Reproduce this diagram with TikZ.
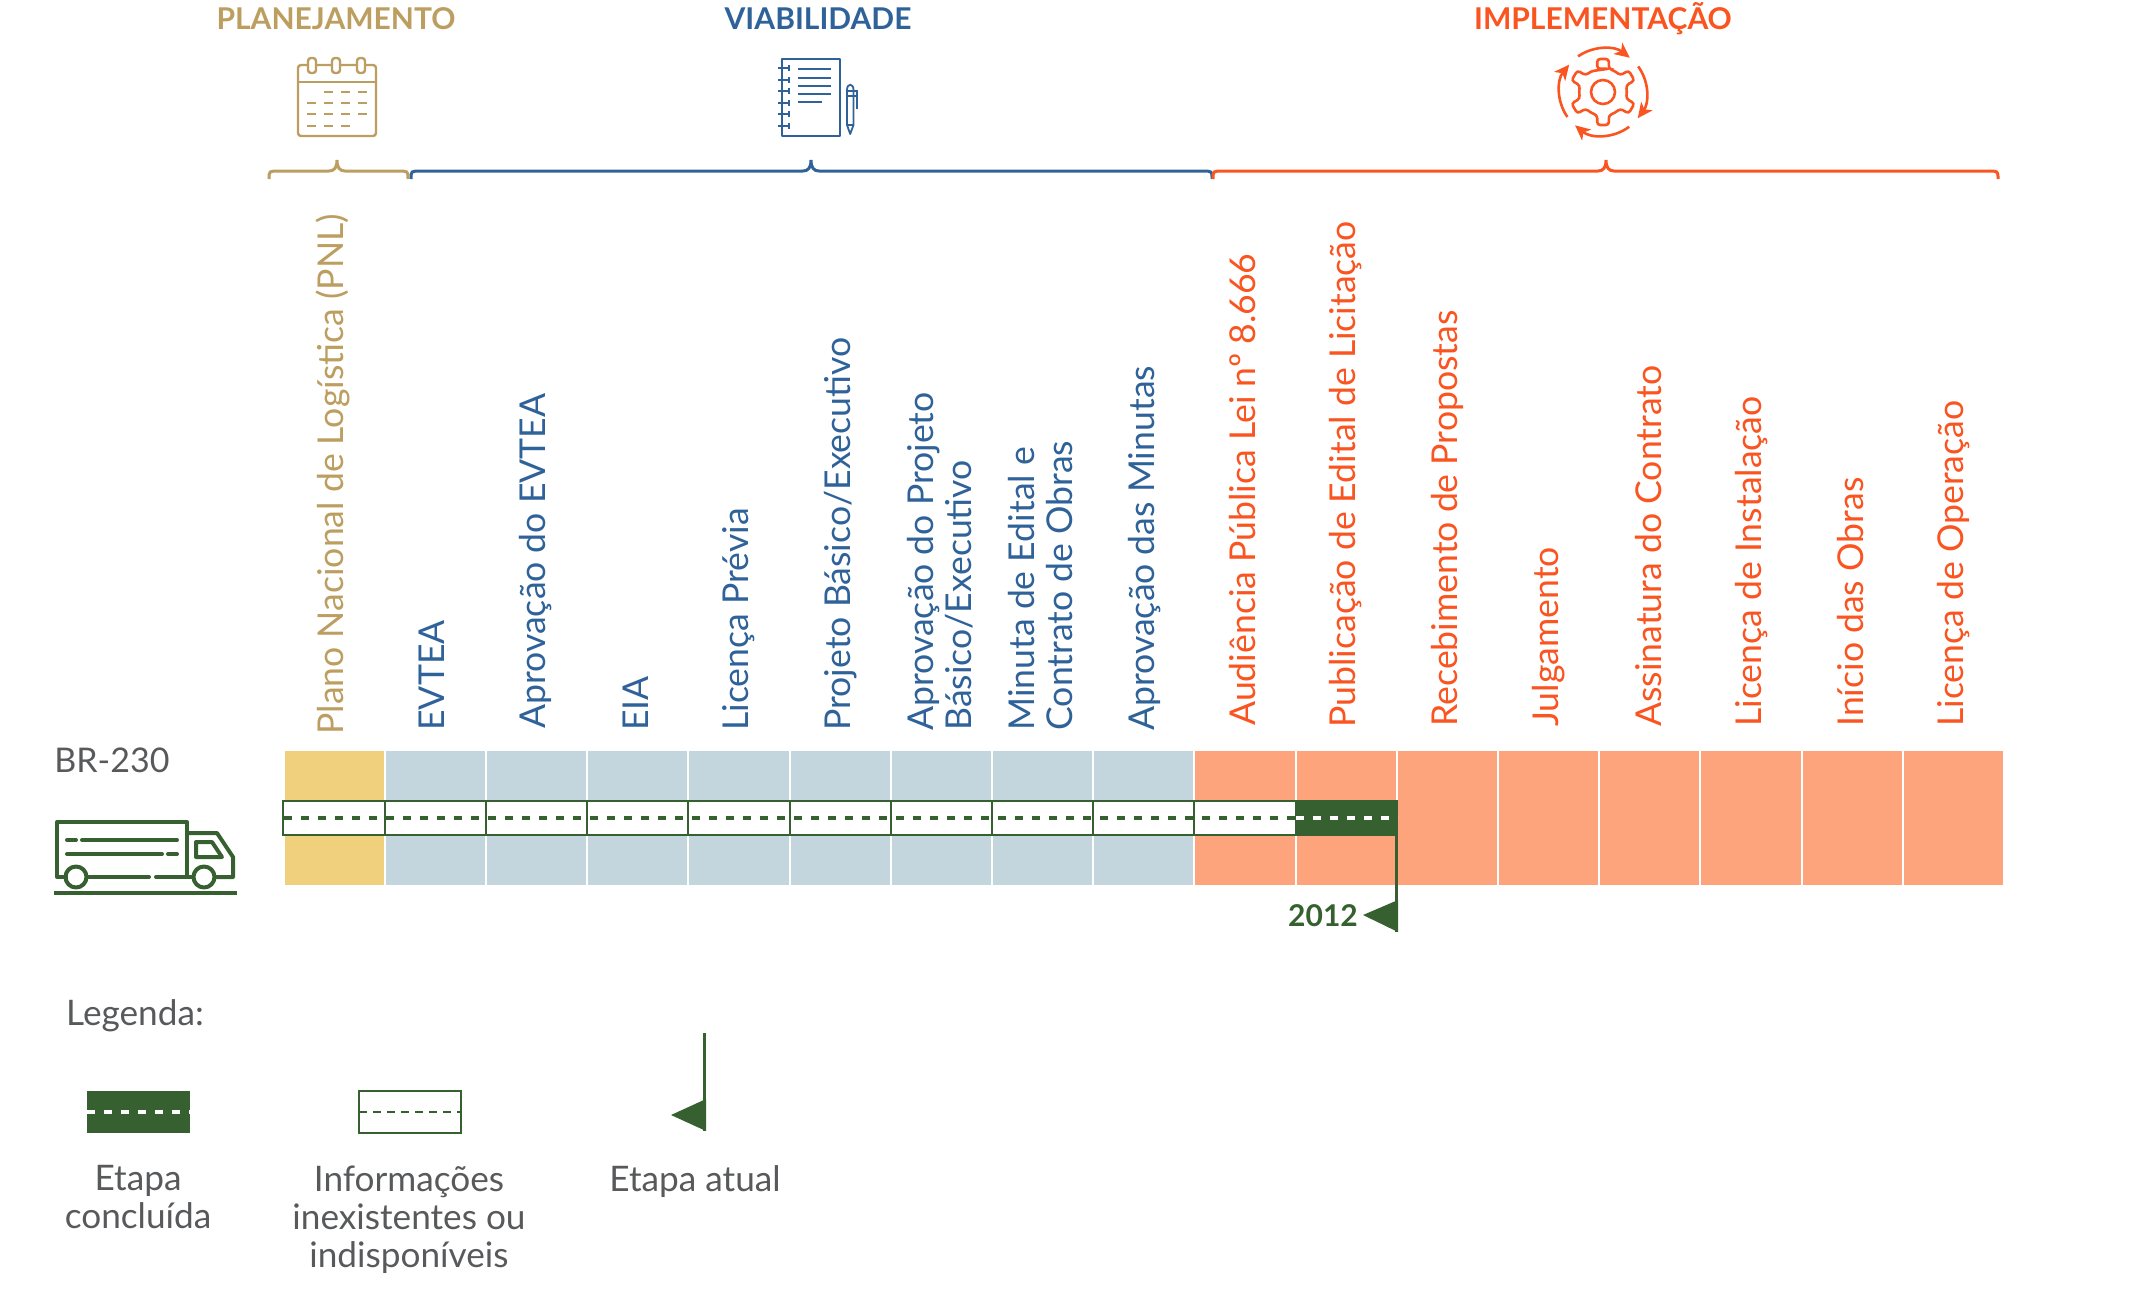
\documentclass[tikz,border=0pt]{standalone}
\usepackage{fontspec}
\setmainfont{Lato}
\usetikzlibrary{arrows.meta}
\definecolor{gold}{HTML}{BC9E60}
\definecolor{blu}{HTML}{2F6299}
\definecolor{org}{HTML}{FA5420}
\definecolor{cellY}{HTML}{F0D07C}
\definecolor{cellB}{HTML}{C3D6DE}
\definecolor{cellO}{HTML}{FDA47C}
\definecolor{grn}{HTML}{36602F}
\definecolor{txt}{HTML}{58595B}
\newcommand{\bracepath}[4]{\draw[#1,line width=1.5pt] (#2,179) .. controls (#2,171) and (#2,171) .. (#2+10,171) -- (#3-8,171) .. controls (#3-3,171) and (#3,168) .. (#3,160) .. controls (#3,168) and (#3+3,171) .. (#3+8,171) -- (#4-10,171) .. controls (#4,171) and (#4,171) .. (#4,179);}
\tikzset{
 phase/.style={font=\fontsize{15}{18}\selectfont\bfseries,anchor=center,inner sep=0pt},
 step label/.style={font=\fontsize{17.8}{19}\selectfont,rotate=90,anchor=west,align=left,inner sep=0pt},
 legend text/.style={font=\fontsize{17.6}{19}\selectfont,text=txt,align=center,anchor=north,inner sep=0pt},
 icon/.style={line width=1.2pt,line join=round},
 truck/.style={grn,line width=2pt,line join=round,line cap=round},
}
\begin{document}
\begin{tikzpicture}[x=0.5pt,y=-0.5pt]
\useasboundingbox (0,0) rectangle (2140,1311);
% phase titles
\node[phase,text=gold] (tplan) at (336,19) {PLANEJAMENTO};
\node[phase,text=blu] (tviab) at (818,19) {VIABILIDADE};
\node[phase,text=org] (timpl) at (1603,19) {IMPLEMENTAÇÃO};
% calendar
\draw[gold,icon,rounded corners=1.5pt] (298,65) rectangle (376,136);
\draw[gold,icon] (298,82) -- (376,82);
\foreach \x in {312,336,361}{\draw[gold,icon,fill=white,rounded corners=1.5pt] (\x-4,58) rectangle (\x+4,73);}
\foreach \x/\y in {324/92,341/92,358/92,307/103,324/103,341/103,358/103,307/114,324/114,341/114,358/114,307/126,324/126,341/126}{\draw[gold,line width=1.1pt] (\x,\y) -- +(9,0);}
% notebook
\draw[blu,icon] (782,59) rectangle (840,136);
\foreach \y in {68,80,91,103,114,126}{\draw[blu,line width=1pt] (778,\y) -- (790,\y); \draw[blu,line width=.8pt] (789,\y-3) -- (789,\y+3);}
\foreach \y/\e in {69/831,78/831,86/831,94/831,102/822}{\draw[blu,line width=1pt] (798,\y) -- (\e,\y);}
\draw[blu,line width=.9pt,line join=round] (847,125) -- (847,90) .. controls (847,83) and (853.5,83) .. (853.5,90) -- (853.5,125) -- (850.2,134) -- cycle;
\draw[blu,line width=.9pt] (847,125) -- (853.5,125) (845.5,91) -- (857,91) -- (857,109) (845.5,96) -- (857,96);
% gear
\begin{scope}[shift={(1603,92)},x=0.5pt,y=0.5pt,org]
\draw[line width=1.3pt] (0,0) circle (12);
\draw[line width=1.3pt,rounded corners=1.5pt] (90-14:24)
 \foreach \a in {90,30,-30,-90,-150,-210}{ -- (\a+14:24) -- (\a+10:33.5) -- (\a-10:33.5) -- (\a-14:24) -- (\a-30:24)} -- cycle;
\foreach \s/\e in {125/52,36/-37,-53/-130,215/141}{
 \draw[line width=1.3pt,-{Stealth[length=7.5pt,width=7pt,inset=2pt]}] (\s:43.5) arc[start angle=\s,end angle=\e,radius=43.5];}
\end{scope}
% braces
\bracepath{gold}{269}{337}{408}
\bracepath{blu}{411}{811}{1212}
\bracepath{org}{1213}{1606}{1998}
% cells
\foreach \i in {0,...,16}{
 \pgfmathsetmacro{\xa}{284.5+101.2*\i}
 \pgfmathsetmacro{\xb}{\xa+101.2}
 \pgfmathtruncatemacro{\k}{\i==0 ? 0 : (\i<9 ? 1 : 2)}
 \ifcase\k\def\cc{cellY}\or\def\cc{cellB}\or\def\cc{cellO}\fi
 \fill[\cc] (\xa,751) rectangle (\xb-2,885);
}
% road
\fill[white] (283,801) rectangle (1296,835);
\foreach \i in {1,...,9}{\draw[grn,line width=1pt] (283.5+101.2*\i,801) -- (283.5+101.2*\i,835);}
\draw[grn,line width=1.1pt] (283,801) rectangle (1296,835);
\fill[grn] (1295,800) rectangle (1398,836);
\draw[grn,line width=2pt,dash pattern=on 4pt off 4.5pt] (284,818) -- (1296,818);
\draw[white,line width=2pt,dash pattern=on 4pt off 4.5pt] (1296,818) -- (1398,818);
% current flag
\coordinate (flagtop) at (1396.5,836);
\coordinate (flagbot) at (1396.5,932);
\draw[grn,line width=1.3pt] (flagtop) -- (flagbot);
\fill[grn] (1363,915) -- (1398,900) -- (1398,932) -- cycle;
\node[inner sep=0pt,text=grn,font=\fontsize{15}{18}\selectfont\bfseries] (y2012) at (1323,916) {2012};
% truck
\node[inner sep=0pt,anchor=west,text=txt,font=\fontsize{17}{21}\selectfont] (br) at (54,760) {BR-230};
\draw[truck] (66,877) -- (57,877) -- (57,822) -- (187,822) -- (187,877);
\draw[truck] (187,833) -- (217,833) -- (233,857) -- (233,877) -- (215,877);
\draw[truck] (87,877) -- (149,877) (156,877) -- (193,877);
\draw[truck] (196,842) -- (212,842) -- (222,857) -- (196,857) -- cycle;
\draw[truck] (67,840) -- (76,840) (82,840) -- (177,840) (67,854) -- (162,854) (168,854) -- (177,854);
\draw[truck] (76,877) circle (10.5) (204,877) circle (10.5);
\draw[grn,line width=2pt] (54,893) -- (237,893);
% rotated labels
\node[step label,text=gold] (s1) at (333,735) {Plano Nacional de Logística (PNL)};
\node[step label,text=blu] (s2) at (432,731) {EVTEA};
\node[step label,text=blu] (s3) at (536,729) {Aprovação do EVTEA};
\node[step label,text=blu] (s4) at (636,731) {EIA};
\node[step label,text=blu] (s5) at (739,731) {Licença Prévia};
\node[step label,text=blu] (s6) at (841,731) {Projeto Básico/Executivo};
\node[step label,text=blu] (s7) at (940,731) {Aprovação do Projeto\\Básico/Executivo};
\node[step label,text=blu] (s8) at (1041,731) {Minuta de Edital e\\Contrato de Obras};
\node[step label,text=blu] (s9) at (1145,731) {Aprovação das Minutas};
\node[step label,text=org] (s10) at (1243,726) {Audiência Pública Lei nº 8.666};
\node[step label,text=org] (s11) at (1346,728) {Publicação de Edital de Licitação};
\node[step label,text=org] (s12) at (1447,727) {Recebimento de Propostas};
\node[step label,text=org] (s13) at (1549,727) {Julgamento};
\node[step label,text=org] (s14) at (1649,727) {Assinatura do Contrato};
\node[step label,text=org] (s15) at (1752,727) {Licença de Instalação};
\node[step label,text=org] (s16) at (1851,727) {Início das Obras};
\node[step label,text=org] (s17) at (1954,727) {Licença de Operação};
% legend
\node[inner sep=0pt,text=txt,font=\fontsize{17.6}{19}\selectfont] (leg) at (135,1016) {Legenda:};
\fill[grn] (87,1091) rectangle (190,1133);
\draw[white,line width=2pt,dash pattern=on 4pt off 4.5pt] (87,1112) -- (190,1112);
\draw[grn,line width=1pt] (359,1091) rectangle (461,1133);
\draw[grn,line width=.8pt,dash pattern=on 4pt off 3pt] (359,1112) -- (461,1112);
\coordinate (ltop) at (704.5,1033);
\coordinate (lbot) at (704.5,1131);
\draw[grn,line width=1.3pt] (ltop) -- (lbot);
\fill[grn] (671,1115) -- (706,1099) -- (706,1131) -- cycle;
\node[legend text] (l1) at (138,1165) {Etapa\\concluída};
\node[legend text] (l2) at (409,1165) {Informações\\inexistentes ou\\indisponíveis};
\node[legend text] (l3) at (695,1165) {Etapa atual};
\end{tikzpicture}
\end{document}
